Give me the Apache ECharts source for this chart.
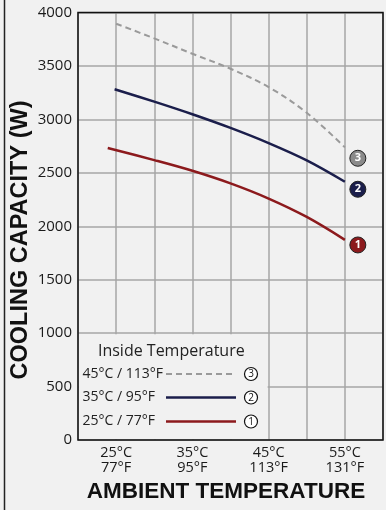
<!DOCTYPE html>
<html>
<head>
<meta charset="utf-8">
<style>
  html, body { margin: 0; padding: 0; background: #f1f1f1; }
  #chart { width: 386px; height: 510px; }
</style>
<script src="https://cdn.jsdelivr.net/npm/echarts@6/dist/echarts.min.js"></script>
</head>
<body>
<div id="chart"></div>
<script>
// Cooling capacity (W) vs ambient temperature (°C), one curve per inside temperature
const xTickLabels = { 25: ['25°C', '77°F'], 35: ['35°C', '95°F'], 45: ['45°C', '113°F'], 55: ['55°C', '131°F'] };
const inside25 = [[23.9, 2732], [30, 2619], [35, 2519], [40, 2401], [45, 2259], [50, 2087], [55, 1873]];
const inside35 = [[24.8, 3282], [30, 3166], [35, 3048], [40, 2920], [45, 2778], [50, 2616], [55, 2416]];
const inside45 = [[25, 3895], [30, 3758], [35, 3614], [40, 3474], [45, 3302], [50, 3062], [55, 2738]];
const seriesNames = ['25°C / 77°F', '35°C / 95°F', '45°C / 113°F'];
const badgeValues = [1825, 2346, 2636];   // where the numbered badges sit, at 56.7 °C
const badgeX = 56.7;
const legendBox = { x0: 20, x1: 45, y0: 0, y1: 1000 };

const FONT = '"Open Sans"';
const TITLE_FONT = '"Liberation Sans"';
const RED = '#8c1a1d', NAVY = '#1b1e4b', GRAY = '#9a9a9a';

const chart = echarts.init(document.getElementById('chart'));

function badge(value, label, fill) {
  return {
    symbol: 'circle', symbolSize: 16, silent: true, animation: false,
    itemStyle: { color: fill, borderColor: '#222', borderWidth: 1 },
    label: { show: true, position: 'inside', color: '#fff', fontSize: 11, fontFamily: FONT, fontWeight: 'bold', formatter: label },
    data: [{ coord: [badgeX, value] }]
  };
}

chart.setOption({
  backgroundColor: '#f1f1f1',
  animation: false,
  grid: { left: 78, right: -2, top: 12.5, bottom: 70 },
  xAxis: {
    type: 'value', min: 20, max: 60, interval: 5,
    axisLine: { show: false }, axisTick: { show: false },
    splitLine: { show: true, lineStyle: { color: '#a6a6a6', width: 1.5 } },
    axisLabel: {
      margin: 5, color: '#1a1a1a', fontSize: 14.5, fontFamily: FONT, lineHeight: 15,
      formatter: v => xTickLabels[v] ? xTickLabels[v].join('\n') : ''
    }
  },
  yAxis: {
    type: 'value', min: 0, max: 4000, interval: 500,
    axisLine: { show: false }, axisTick: { show: false },
    splitLine: { show: true, lineStyle: { color: '#a6a6a6', width: 1.5 } },
    axisLabel: { margin: 6, color: '#1a1a1a', fontSize: 15, fontFamily: FONT, formatter: v => String(v) }
  },
  series: [
    { name: seriesNames[0], type: 'line', data: inside25, smooth: 0.35, showSymbol: false, z: 3,
      lineStyle: { color: RED, width: 2.5 }, markPoint: badge(badgeValues[0], '1', RED) },
    { name: seriesNames[1], type: 'line', data: inside35, smooth: 0.35, showSymbol: false, z: 3,
      lineStyle: { color: NAVY, width: 2.5 }, markPoint: badge(badgeValues[1], '2', NAVY) },
    { name: seriesNames[2], type: 'line', data: inside45, smooth: 0.35, showSymbol: false, z: 3,
      lineStyle: { color: GRAY, width: 2, type: [6, 4] }, markPoint: badge(badgeValues[2], '3', '#8a8a8a') }
  ]
});

// Plot frame, legend panel in the lower-left cell block, outer frame line and axis titles
const tl = chart.convertToPixel({ gridIndex: 0 }, [20, 4000]);
const br = chart.convertToPixel({ gridIndex: 0 }, [60, 0]);
const p0 = chart.convertToPixel({ gridIndex: 0 }, [legendBox.x0, legendBox.y1]);
const p1 = chart.convertToPixel({ gridIndex: 0 }, [legendBox.x1, legendBox.y0]);
const bx = p0[0] + 1, by = p0[1] + 1, bw = p1[0] - p0[0] - 2, bh = p1[1] - p0[1] - 2;

const rows = [
  { text: seriesNames[2], y: 374, color: GRAY, dash: [6, 4], width: 2, num: '3' },
  { text: seriesNames[1], y: 397.5, color: NAVY, dash: null, width: 2.5, num: '2' },
  { text: seriesNames[0], y: 421.5, color: RED, dash: null, width: 2.5, num: '1' }
];
const legendEls = [
  { type: 'rect', shape: { x: bx, y: by, width: bw, height: bh }, style: { fill: '#f1f1f1' }, z: 10 },
  { type: 'text', x: bx + bw / 2 - 2, y: 351, z: 11,
    style: { text: 'Inside Temperature', font: '16px ' + FONT, fill: '#222', align: 'center', verticalAlign: 'middle' } }
];
rows.forEach(r => {
  legendEls.push({ type: 'text', x: 82.5, y: r.y, z: 11,
    style: { text: r.text, font: '14px ' + FONT, fill: '#222', align: 'left', verticalAlign: 'middle' } });
  legendEls.push({ type: 'line', z: 11, shape: { x1: 166, y1: r.y, x2: 236, y2: r.y },
    style: { stroke: r.color, lineWidth: r.width, lineDash: r.dash } });
  legendEls.push({ type: 'circle', z: 11, shape: { cx: 251, cy: r.y, r: 6.5 },
    style: { fill: '#fff', stroke: '#111', lineWidth: 1.2 } });
  legendEls.push({ type: 'text', x: 251, y: r.y + 0.5, z: 12,
    style: { text: r.num, font: '10px ' + FONT, fill: '#111', align: 'center', verticalAlign: 'middle' } });
});

chart.setOption({
  graphic: [
    { type: 'rect', z: 20, shape: { x: tl[0], y: tl[1], width: br[0] - tl[0], height: br[1] - tl[1] },
      style: { fill: null, stroke: '#111', lineWidth: 1.5 } },
    { type: 'line', shape: { x1: 4.5, y1: 0, x2: 4.5, y2: 510 }, style: { stroke: '#222', lineWidth: 1.5 }, z: 20 },
    { type: 'text', x: 21, y: 240, rotation: Math.PI / 2, z: 20,
      style: { text: 'COOLING CAPACITY (W)', font: 'bold 23.5px ' + TITLE_FONT, fill: '#111', align: 'center', verticalAlign: 'middle' } },
    { type: 'text', x: 226, y: 492, z: 20,
      style: { text: 'AMBIENT TEMPERATURE', font: 'bold 22.5px ' + TITLE_FONT, fill: '#111', align: 'center', verticalAlign: 'middle' } }
  ].concat(legendEls)
});
</script>
</body>
</html>
